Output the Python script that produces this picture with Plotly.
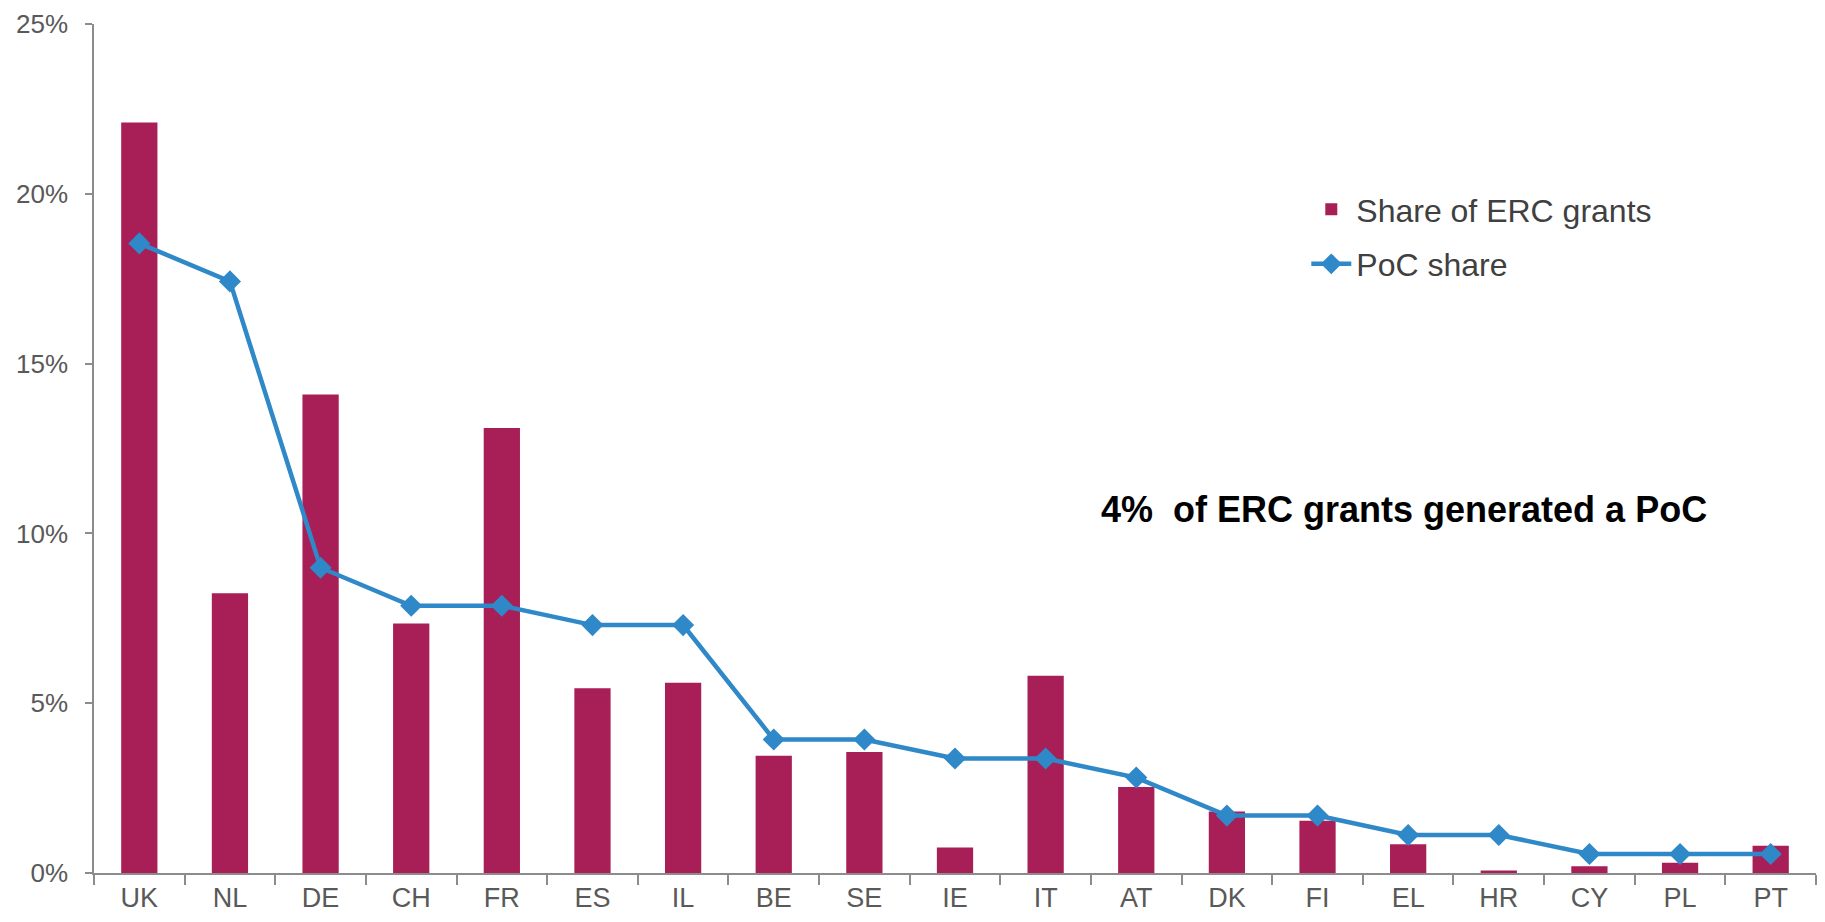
import plotly.graph_objects as go

countries = ["UK", "NL", "DE", "CH", "FR", "ES", "IL", "BE", "SE", "IE",
             "IT", "AT", "DK", "FI", "EL", "HR", "CY", "PL", "PT"]
erc_share = [22.1, 8.24, 14.09, 7.35, 13.1, 5.44, 5.6, 3.45, 3.56, 0.75,
             5.81, 2.53, 1.81, 1.54, 0.85, 0.07, 0.2, 0.3, 0.8]
poc_share = [18.54, 17.42, 8.99, 7.87, 7.87, 7.30, 7.30, 3.93, 3.93, 3.37,
             3.37, 2.81, 1.69, 1.69, 1.12, 1.12, 0.56, 0.56, 0.56]
y_ticks = [0, 5, 10, 15, 20, 25]
y_tick_labels = ["0%", "5%", "10%", "15%", "20%", "25%"]

BAR_COLOR = "#A81E56"
LINE_COLOR = "#2F88C8"
AXIS_COLOR = "#8C8C8C"
TEXT_COLOR = "#595959"
FONT = "Liberation Sans, Arial, sans-serif"

fig = go.Figure()
fig.add_trace(go.Bar(
    x=countries, y=erc_share, name="Share of ERC grants",
    marker=dict(color=BAR_COLOR, line=dict(width=0)),
    width=0.4, legendgroup="erc",
))
fig.add_trace(go.Scatter(
    x=countries, y=poc_share, name="PoC share", mode="lines+markers",
    line=dict(color=LINE_COLOR, width=4.5),
    marker=dict(symbol="diamond", size=17, color=LINE_COLOR),
    legendgroup="poc",
))

fig.add_annotation(
    text="<b>4%  of ERC grants generated a PoC</b>",
    xref="paper", yref="paper", x=0.761, y=0.428,
    xanchor="center", yanchor="middle", showarrow=False,
    font=dict(family=FONT, size=36, color="#000000"),
)

fig.update_layout(
    width=1809, height=906,
    margin=dict(l=86, r=1, t=14, b=41),
    paper_bgcolor="white", plot_bgcolor="white",
    font=dict(family=FONT, color=TEXT_COLOR),
    showlegend=True,
    legend=dict(
        x=0.704, y=0.814, xanchor="left", yanchor="top",
        font=dict(family=FONT, size=32, color="#404040"),
        bgcolor="rgba(0,0,0,0)", itemwidth=40,
        traceorder="grouped", tracegroupgap=10,
    ),
    xaxis=dict(
        type="category", range=[-0.5, len(countries) - 0.5],
        showgrid=False, showline=True,
        linecolor=AXIS_COLOR, linewidth=1.5,
        ticks="outside", tickson="boundaries", ticklen=10,
        tickcolor=AXIS_COLOR, tickwidth=1.5,
        tickfont=dict(family=FONT, size=27, color=TEXT_COLOR),
    ),
    yaxis=dict(
        range=[0, 25], tickvals=y_ticks, ticktext=y_tick_labels,
        showgrid=False, showline=True, zeroline=False,
        linecolor=AXIS_COLOR, linewidth=1.5,
        ticks="outside", ticklen=7, tickcolor=AXIS_COLOR, tickwidth=1.5,
        tickfont=dict(family=FONT, size=26, color=TEXT_COLOR),
        ticklabelstandoff=12, ticklabeloverflow="allow",
    ),
)

fig.write_html("out.html")
